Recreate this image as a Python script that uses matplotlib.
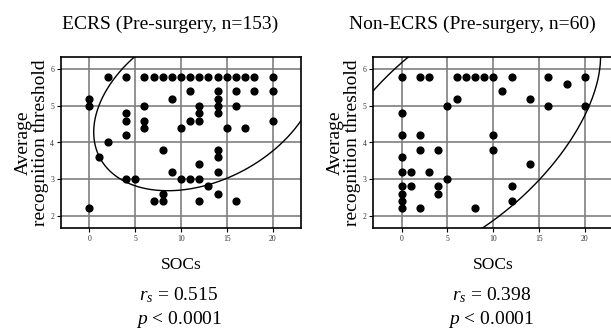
import numpy as np
import matplotlib
matplotlib.use("Agg")
import matplotlib.pyplot as plt

plt.rcParams['font.family'] = ['Liberation Serif', 'DejaVu Serif']
plt.rcParams['mathtext.fontset'] = 'custom'
plt.rcParams['mathtext.rm'] = 'Liberation Serif'
plt.rcParams['mathtext.it'] = 'Liberation Serif:italic'

# ECRS (pre-surgery): SOCs vs average recognition threshold
ecrs_x = [2, 4, 6, 7, 8, 9, 10, 11, 12, 13, 14, 15, 16, 17, 18, 20,
          11, 14, 16, 18, 20,
          0, 9, 14,
          0, 6, 12, 14, 16,
          4, 12, 14,
          4, 6, 11, 12, 20,
          6, 10, 15, 17,
          4, 2, 8, 14, 1, 14, 12, 9, 14,
          4, 5, 10, 11, 12, 13, 8, 14,
          7, 8, 12, 16, 0]
ecrs_y = [5.8] * 16 + [5.4] * 5 + [5.2] * 3 + [5.0] * 5 + [4.8] * 3 + [4.6] * 5 + [4.4] * 4 + \
         [4.2, 4.0, 3.8, 3.8, 3.6, 3.6, 3.4, 3.2, 3.2] + [3.0] * 5 + [2.8, 2.6, 2.6] + [2.4] * 4 + [2.2]

# Non-ECRS (pre-surgery)
non_x = [0, 2, 3, 6, 7, 8, 9, 10, 12, 16, 20,
         18, 11, 6, 14, 5, 16, 20, 0,
         0, 2, 10, 2, 4, 10, 0, 14, 0, 1, 3, 5,
         0, 1, 4, 12, 0, 4, 0, 12, 0, 2, 8]
non_y = [5.8] * 11 + [5.6, 5.4, 5.2, 5.2, 5.0, 5.0, 5.0, 4.8,
                      4.2, 4.2, 4.2, 3.8, 3.8, 3.8, 3.6, 3.4, 3.2, 3.2, 3.2, 3.0,
                      2.8, 2.8, 2.8, 2.8, 2.6, 2.6, 2.4, 2.4, 2.2, 2.2, 2.2]

# confidence ellipses: centre x, centre y, half-width x, half-width y, correlation
ecrs_ellipse = (12.72, 5.11, 12.25, 2.43, 0.341)
non_ellipse = (6.22, 4.27, 15.49, 3.65, 0.569)

titles = ["ECRS (Pre-surgery, n=153)", "Non-ECRS (Pre-surgery, n=60)"]
rs_values = ["0.515", "0.398"]


def ellipse(cx, cy, sx, sy, rho):
    t = np.linspace(0, 2 * np.pi, 400)
    return cx + sx * np.cos(t), cy + sy * (rho * np.cos(t) + np.sqrt(1 - rho ** 2) * np.sin(t))


fig = plt.figure(figsize=(6.11, 3.30), dpi=100)
W, H = 611.0, 330.0
panels = [
    (61, ecrs_x, ecrs_y, ecrs_ellipse, titles[0], 170, rs_values[0]),
    (373.3, non_x, non_y, non_ellipse, titles[1], 472, rs_values[1]),
]
for left, xs, ys, ell, title, tcx, rs in panels:
    ax = fig.add_axes([left / W, (H - 228) / H, 240 / W, 171 / H])
    ax.set_xlim(-3.1, 23.1)
    ax.set_ylim(1.66, 6.34)
    ax.set_xticks([0, 5, 10, 15, 20])
    ax.set_yticks([2, 3, 4, 5, 6])
    ax.grid(True, color='#7f7f7f', lw=1.2)
    ax.set_axisbelow(True)
    ax.tick_params(labelsize=5.5, length=3, width=0.8, pad=2, labelcolor='#333333')
    for s in ax.spines.values():
        s.set_linewidth(1.2)
    ax.scatter(xs, ys, s=24, color='black', zorder=3)
    ex, ey = ellipse(*ell)
    ax.plot(ex, ey, color='black', lw=1.0, zorder=4)
    ax.set_ylabel("Average\nrecognition threshold", fontsize=14, labelpad=1, linespacing=1.0)
    ax.set_xlabel("SOCs", fontsize=12.5, labelpad=10)
    fig.text(tcx / W, 1 - 24 / H, title, ha='center', va='center', fontsize=14)
    fig.text((left + 118) / W, 1 - 295 / H, "$r_s$ = " + rs, ha='center', va='center', fontsize=14)
    fig.text((left + 118) / W, 1 - 320 / H, "$p$ < 0.0001", ha='center', va='center', fontsize=14)

fig.savefig("out.png", dpi=100)
